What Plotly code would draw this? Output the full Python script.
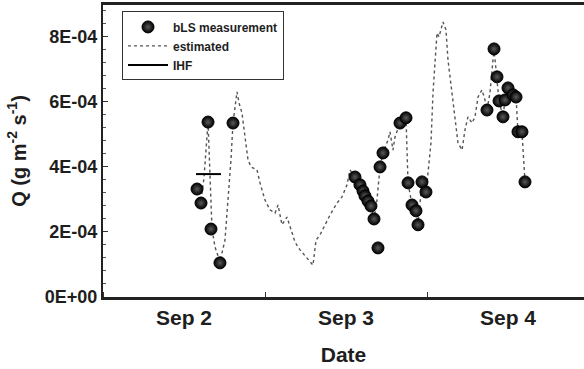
import pandas as pd
import plotly.graph_objects as go

BASE = pd.Timestamp("2008-09-02 00:00")

# bLS measurements: hours after Sep 2 00:00, flux (g m-2 s-1)
bls_hours = [13.93, 14.52, 15.56, 16.00, 17.33, 19.26,
             37.33, 38.07, 38.52, 38.81, 39.26, 39.70, 40.15, 40.74, 41.04, 41.48,
             44.00, 44.89, 45.19, 45.78, 46.37, 46.67, 47.26, 47.85,
             56.89, 57.93, 58.37, 58.67, 59.26, 59.56, 60.00, 60.74, 61.19, 61.48, 62.07, 62.52]
bls_q = [3.32e-4, 2.89e-4, 5.38e-4, 2.09e-4, 1.05e-4, 5.35e-4,
         3.69e-4, 3.45e-4, 3.26e-4, 3.11e-4, 2.95e-4, 2.80e-4, 2.40e-4, 1.51e-4, 4.00e-4, 4.43e-4,
         5.35e-4, 5.51e-4, 3.51e-4, 2.83e-4, 2.65e-4, 2.22e-4, 3.54e-4, 3.23e-4,
         5.75e-4, 7.63e-4, 6.77e-4, 6.03e-4, 5.54e-4, 6.06e-4, 6.43e-4, 6.22e-4, 6.15e-4, 5.08e-4, 5.08e-4, 3.54e-4]

# estimated flux
est_hours = [14.52, 14.96, 15.56, 15.70, 15.85, 16.00, 16.15, 16.59, 17.33, 18.07, 18.52, 18.96,
             19.26, 19.56, 19.85, 20.15, 20.59, 21.04, 21.48, 21.93, 22.81, 23.26, 24.00, 24.74,
             25.48, 25.93, 26.52, 27.26, 27.70, 28.44, 29.19, 30.37, 31.11, 31.56, 32.15, 33.63,
             34.67, 35.41, 36.15, 36.59, 37.33, 38.07, 38.81, 39.70, 40.15, 40.59, 41.04, 41.48,
             42.22, 42.52, 42.96, 43.26, 44.00, 44.89, 45.19, 45.78, 46.37, 46.67, 47.26, 47.85,
             48.15, 48.59, 48.89, 49.19, 49.48, 49.78, 50.37, 50.81, 51.11, 51.70, 52.15, 52.59,
             53.19, 53.63, 54.07, 54.67, 55.11, 55.56, 56.15, 56.59, 56.89, 57.33, 57.93, 58.37,
             58.67, 59.26, 59.56, 60.00, 60.74, 61.19, 61.48, 62.07, 62.52]
est_q = [2.98e-4, 3.66e-4, 5.38e-4, 4.52e-4, 3.75e-4, 2.98e-4, 2.09e-4, 1.54e-4, 1.08e-4, 1.75e-4, 2.98e-4, 4.22e-4,
         5.35e-4, 5.85e-4, 6.31e-4, 5.97e-4, 5.66e-4, 4.92e-4, 4.22e-4, 4.00e-4, 3.91e-4, 3.51e-4, 2.98e-4, 2.68e-4,
         2.58e-4, 2.83e-4, 2.22e-4, 2.46e-4, 2.15e-4, 1.69e-4, 1.45e-4, 1.14e-4, 0.98e-4, 1.75e-4, 1.91e-4, 2.52e-4,
         2.89e-4, 3.08e-4, 3.45e-4, 3.91e-4, 3.69e-4, 3.45e-4, 3.11e-4, 2.80e-4, 2.40e-4, 2.98e-4, 4.00e-4, 4.43e-4,
         4.83e-4, 5.08e-4, 4.52e-4, 4.92e-4, 5.35e-4, 5.51e-4, 3.51e-4, 2.83e-4, 2.65e-4, 2.22e-4, 3.54e-4, 3.23e-4,
         3.82e-4, 4.74e-4, 6.28e-4, 7.29e-4, 8.12e-4, 8.00e-4, 8.46e-4, 8.22e-4, 7.29e-4, 6.28e-4, 5.45e-4, 4.74e-4,
         4.52e-4, 5.14e-4, 5.54e-4, 5.35e-4, 5.54e-4, 6.15e-4, 6.37e-4, 6.06e-4, 5.75e-4, 6.28e-4, 7.63e-4, 6.77e-4,
         6.03e-4, 5.54e-4, 6.06e-4, 6.43e-4, 6.22e-4, 6.15e-4, 5.08e-4, 5.08e-4, 3.54e-4]

# IHF mean over its sampling period
ihf_hours = [13.78, 17.48]
ihf_q = [3.78e-4, 3.78e-4]

y_tick_vals = [0, 2e-4, 4e-4, 6e-4, 8e-4]
y_tick_text = ["0E+00", "2E-04", "4E-04", "6E-04", "8E-04"]


def to_time(hours):
    return [BASE + pd.Timedelta(hours=h) for h in hours]


FONT = "Liberation Sans, Arial, sans-serif"
INK = "#1e1e1e"

fig = go.Figure()
fig.add_trace(go.Scatter(
    x=to_time(est_hours), y=est_q, mode="lines", name="estimated", legendrank=2,
    line=dict(color="#555555", width=1.4, dash="dot"),
))
fig.add_trace(go.Scatter(
    x=to_time(ihf_hours), y=ihf_q, mode="lines", name="IHF", legendrank=3,
    line=dict(color="#000000", width=2),
))
fig.add_trace(go.Scatter(
    x=to_time(bls_hours), y=bls_q, mode="markers", name="bLS measurement", legendrank=1,
    marker=dict(size=12, color="#000000",
                gradient=dict(type="radial", color="#5a5a5a"),
                line=dict(color="#000000", width=1)),
))

fig.update_layout(
    width=584, height=369,
    margin=dict(l=103, r=0, t=5, b=72, autoexpand=False),
    paper_bgcolor="white", plot_bgcolor="white",
    font=dict(family=FONT, color=INK),
    showlegend=True,
    legend=dict(
        x=0.0395, y=0.978, xanchor="left", yanchor="top",
        bordercolor="#333333", borderwidth=1, bgcolor="white",
        font=dict(size=12, family=FONT, weight="bold", color=INK),
        traceorder="normal", itemwidth=40, tracegroupgap=0,
    ),
    xaxis=dict(
        type="date", automargin=False,
        range=[BASE, BASE + pd.Timedelta(hours=71.26)],
        tick0=BASE, dtick=86400000, ticklabelmode="period",
        tickformat="%b %-d",
        ticks="inside", ticklen=5, tickcolor="#333333",
        showline=True, linecolor="#222222", linewidth=2.5, mirror=True,
        showgrid=False, zeroline=False,
        tickfont=dict(size=21, family=FONT, weight="bold", color=INK),
        title=dict(text="<b>Date</b>", font=dict(size=21, family=FONT, color=INK), standoff=20),
    ),
    yaxis=dict(
        automargin=False,
        range=[0, 8.98e-4],
        tickvals=y_tick_vals, ticktext=y_tick_text,
        ticks="inside", ticklen=5, tickcolor="#333333",
        minor=dict(dtick=0.4e-4, ticks="inside", ticklen=3, tickcolor="#555555"),
        showline=True, linecolor="#222222", linewidth=2, mirror=False,
        showgrid=False, zeroline=False,
        tickfont=dict(size=18, family=FONT, weight="bold", color=INK),
        title=dict(text="<b>Q (g m<sup>-2</sup> s<sup>-1</sup>)</b>",
                   font=dict(size=20, family=FONT, color=INK), standoff=13),
    ),
)

fig.write_html("out.html", config={"displayModeBar": False},
               post_script="document.body.style.margin='0px';")
